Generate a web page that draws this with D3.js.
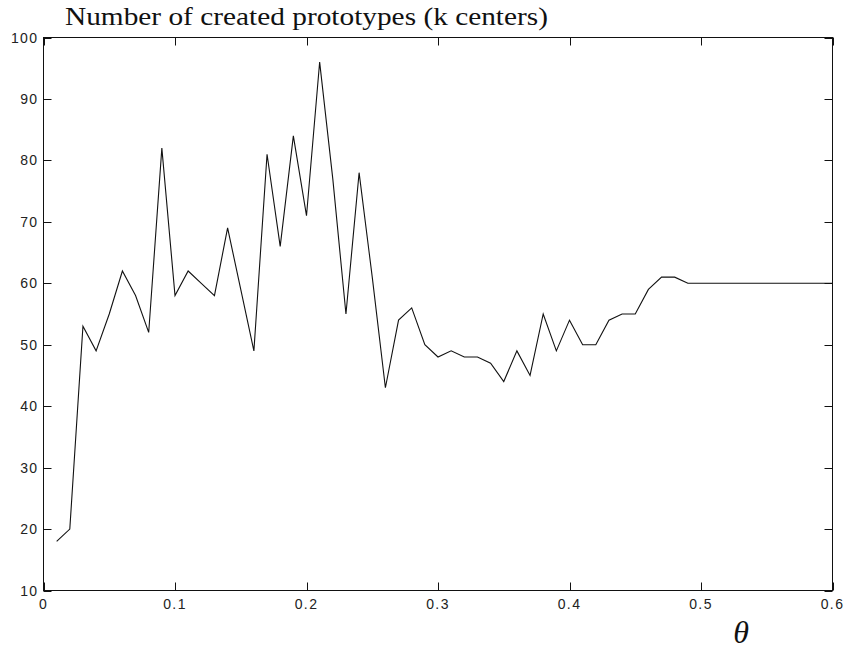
<!DOCTYPE html>
<html>
<head>
<meta charset="utf-8">
<script src="https://cdn.jsdelivr.net/npm/d3@7"></script>
<style>
  html, body { margin: 0; padding: 0; background: #fff; }
  svg { display: block; }
</style>
</head>
<body>
<svg id="chart" width="845" height="650"></svg>
<script>
// threshold values (x) and number of prototypes created (y)
const thetas = d3.range(1, 61).map(i => i / 100);
const prototypes = [
  18, 20, 53, 49, 55, 62, 58, 52, 82, 58,
  62, 60, 58, 69, 59, 49, 81, 66, 84, 71,
  96, 77, 55, 78, 61, 43, 54, 56, 50, 48,
  49, 48, 48, 47, 44, 49, 45, 55, 49, 54,
  50, 50, 54, 55, 55, 59, 61, 61, 60, 60,
  60, 60, 60, 60, 60, 60, 60, 60, 60, 60
];
const xTicks = [0, 0.1, 0.2, 0.3, 0.4, 0.5, 0.6];
const yTicks = [10, 20, 30, 40, 50, 60, 70, 80, 90, 100];
const titleText = "Number of created prototypes (k centers)";
const xLabel = "\u03B8";

const svg = d3.select("#chart");
const plotL = 43.5, plotR = 832.5, plotT = 37.5, plotB = 590.5;

const x = d3.scaleLinear().domain([0, 0.6]).range([plotL, plotR]);
const y = d3.scaleLinear().domain([10, 100]).range([plotB, plotT]);

const tickLen = 8;
const tickFont = "'Liberation Sans', Arial, sans-serif";

// frame
svg.append("rect")
  .attr("x", plotL).attr("y", plotT)
  .attr("width", plotR - plotL).attr("height", plotB - plotT)
  .attr("fill", "none").attr("stroke", "#111").attr("stroke-width", 1);

// inward ticks on all four sides
const ticks = svg.append("g").attr("stroke", "#111").attr("stroke-width", 1);
xTicks.forEach(t => {
  const px = Math.round(x(t)) + 0.5;
  ticks.append("line").attr("x1", px).attr("x2", px).attr("y1", plotB).attr("y2", plotB - tickLen);
  ticks.append("line").attr("x1", px).attr("x2", px).attr("y1", plotT).attr("y2", plotT + tickLen);
});
yTicks.forEach(t => {
  const py = Math.round(y(t)) + 0.5;
  ticks.append("line").attr("x1", plotL).attr("x2", plotL + tickLen).attr("y1", py).attr("y2", py);
  ticks.append("line").attr("x1", plotR).attr("x2", plotR - tickLen).attr("y1", py).attr("y2", py);
});

// tick labels
svg.append("g").selectAll("text").data(xTicks).join("text")
  .attr("x", d => x(d))
  .attr("y", plotB + 18)
  .attr("text-anchor", "middle")
  .attr("font-family", tickFont)
  .attr("font-size", 14)
  .attr("letter-spacing", 1.4)
  .attr("fill", "#222")
  .text(d => d3.format("")(d));

svg.append("g").selectAll("text").data(yTicks).join("text")
  .attr("x", plotL - 5)
  .attr("y", d => y(d) + 5)
  .attr("text-anchor", "end")
  .attr("font-family", tickFont)
  .attr("font-size", 14)
  .attr("letter-spacing", 1.4)
  .attr("fill", "#222")
  .text(d => d);

// data line
const line = d3.line().x((d, i) => x(thetas[i])).y(d => y(d));
svg.append("path")
  .datum(prototypes)
  .attr("d", line)
  .attr("fill", "none")
  .attr("stroke", "#111")
  .attr("stroke-width", 1.1)
  .attr("stroke-linejoin", "miter");

// title
svg.append("text")
  .attr("x", 65)
  .attr("y", 25)
  .attr("font-family", "'Liberation Serif', 'Times New Roman', serif")
  .attr("font-size", 26)
  .attr("textLength", 483)
  .attr("lengthAdjust", "spacingAndGlyphs")
  .attr("fill", "#111")
  .text(titleText);

// x-axis symbol
svg.append("text")
  .attr("x", 741)
  .attr("y", 643)
  .attr("text-anchor", "middle")
  .attr("font-family", "'Liberation Serif', 'Times New Roman', serif")
  .attr("font-style", "italic")
  .attr("font-size", 32)
  .attr("fill", "#111")
  .text(xLabel);
</script>
</body>
</html>
